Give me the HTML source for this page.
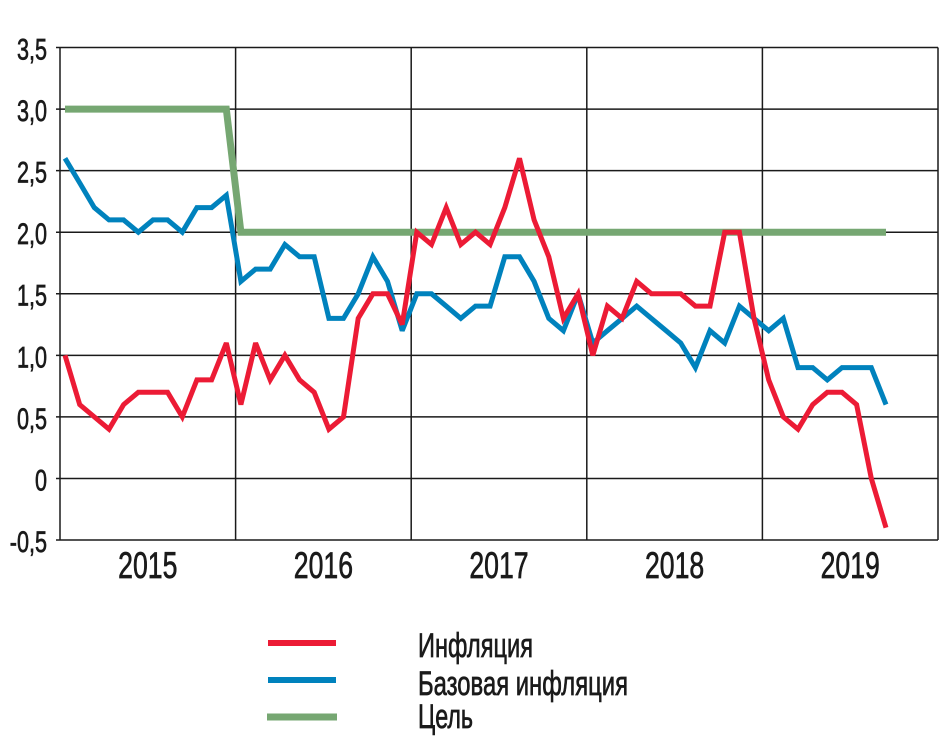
<!DOCTYPE html>
<html><head><meta charset="utf-8"><style>
body{margin:0;background:#fff;}
svg text{font-family:"Liberation Sans",sans-serif;fill:#1a1a1a;stroke:#1a1a1a;stroke-width:0.7;}
</style></head><body>
<svg id="chart" width="950" height="747" xmlns="http://www.w3.org/2000/svg">
<g id="grid"></g><g id="series"></g><g id="labels"></g>
<g>
<line x1="268" y1="643" x2="336" y2="643" stroke="#ec1b35" stroke-width="6"/>
<line x1="268" y1="680" x2="336" y2="680" stroke="#0082bd" stroke-width="6"/>
<line x1="267" y1="717" x2="337" y2="717" stroke="#76a772" stroke-width="7"/>
<text x="418" y="657" font-size="34" textLength="115" lengthAdjust="spacingAndGlyphs">Инфляция</text>
<text x="418" y="695" font-size="34" textLength="210" lengthAdjust="spacingAndGlyphs">Базовая инфляция</text>
<text x="418" y="728" font-size="34" textLength="55" lengthAdjust="spacingAndGlyphs">Цель</text>
</g>
</svg>
<script>
const years=["2015","2016","2017","2018","2019"];
const yTicks=[3.5,3.0,2.5,2.0,1.5,1.0,0.5,0,-0.5];
const yTickLabels=["3,5","3,0","2,5","2,0","1,5","1,0","0,5","0","-0,5"];
const inflation=[1.0,0.6,0.5,0.4,0.6,0.7,0.7,0.7,0.5,0.8,0.8,1.1,
0.6,1.1,0.8,1.0,0.8,0.7,0.4,0.5,1.3,1.5,1.5,1.25,
2.0,1.9,2.2,1.9,2.0,1.9,2.2,2.6,2.1,1.8,1.3,1.5,
1.0,1.4,1.3,1.6,1.5,1.5,1.5,1.4,1.4,2.0,2.0,1.3,
0.8,0.5,0.4,0.6,0.7,0.7,0.6,0.0,-0.4];
const core=[2.6,2.4,2.2,2.1,2.1,2.0,2.1,2.1,2.0,2.2,2.2,2.3,
1.6,1.7,1.7,1.9,1.8,1.8,1.3,1.3,1.5,1.8,1.6,1.2,
1.5,1.5,1.4,1.3,1.4,1.4,1.8,1.8,1.6,1.3,1.2,1.5,
1.1,1.2,1.3,1.4,1.3,1.2,1.1,0.9,1.2,1.1,1.4,1.3,
1.2,1.3,0.9,0.9,0.8,0.9,0.9,0.9,0.6];
const target=[3,3,3,3,3,3,3,3,3,3,3,3,
2,2,2,2,2,2,2,2,2,2,2,2,2,2,2,2,2,2,2,2,2,2,2,2,
2,2,2,2,2,2,2,2,2,2,2,2,2,2,2,2,2,2,2,2,2];

const NS="http://www.w3.org/2000/svg";
const L=60,R=938,T=47.5,B=540;
const yMin=-0.5,yMax=3.5;
const y=v=>B-(v-yMin)/(yMax-yMin)*(B-T);
const yearW=(R-L)/years.length;
const x=i=>65+i*14.66;
function mk(tag,attrs,parent){const e=document.createElementNS(NS,tag);for(const k in attrs)e.setAttribute(k,attrs[k]);parent.appendChild(e);return e;}
const grid=document.getElementById('grid'),labels=document.getElementById('labels'),series=document.getElementById('series');
yTicks.forEach((v,i)=>{
 const ln=mk('line',{x1:L-4,x2:R,y1:y(v),y2:y(v),stroke:'#1a1a1a','stroke-width':1.5},grid);
 
 
 const t=mk('text',{x:47,y:y(v)+12,'font-size':30,'text-anchor':'end',transform:`translate(47 0) scale(0.72 1) translate(-47 0)`},labels);
 t.textContent=yTickLabels[i];
 
 
});
for(let i=0;i<=years.length;i++){
 const xx=L+i*yearW;
 const ln=mk('line',{x1:xx,x2:xx,y1:T,y2:B,stroke:'#1a1a1a','stroke-width':1.5},grid);
 
 
}
years.forEach((yr,i)=>{
 const cx=L+(i+0.5)*yearW;
 const t=mk('text',{x:cx,y:578,'font-size':37,'text-anchor':'middle',transform:`translate(${cx} 0) scale(0.72 1) translate(${-cx} 0)`},labels);
 t.textContent=yr;
 
 
});
function line(data,color,w,name){
 const d=data.map((v,i)=>(i?'L':'M')+x(i).toFixed(1)+' '+y(v).toFixed(1)).join(' ');
 const p=mk('path',{d:d,fill:'none',stroke:color,'stroke-width':w,'stroke-linejoin':'miter','stroke-miterlimit':3},series);
 
 
}
line(target,'#76a772',7,'target-line');
line(core,'#0082bd',5,'core-inflation-line');
line(inflation,'#ec1b35',5,'inflation-line');
</script>
</body></html>
